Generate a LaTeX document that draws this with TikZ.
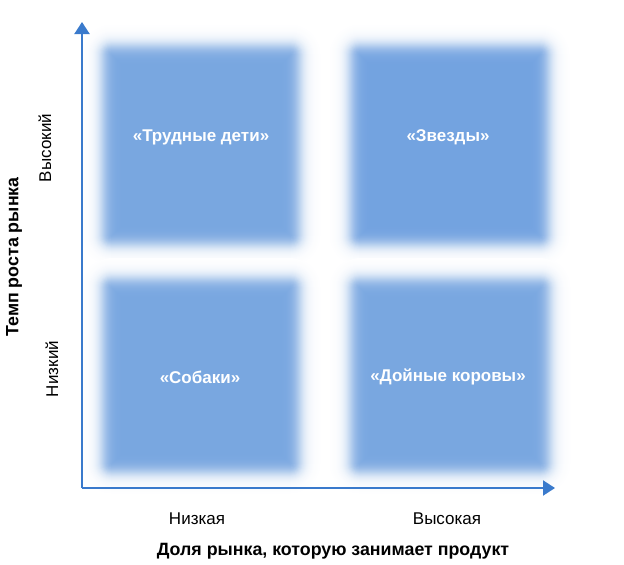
\documentclass[tikz,border=0pt]{standalone}
\usepackage{fontspec}
\setmainfont{Liberation Sans}
\usetikzlibrary{arrows.meta}
\definecolor{sqa}{RGB}{120,166,224}
\definecolor{sqb}{RGB}{114,162,224}
\definecolor{axis}{RGB}{58,122,204}
\tikzset{
  sqtext/.style={text=white,font=\fontsize{17}{20}\selectfont\bfseries,inner sep=0pt},
  lvl/.style={font=\fontsize{17}{20}\selectfont,inner sep=0pt},
  ttl/.style={font=\fontsize{17.8}{21}\selectfont\bfseries,inner sep=0pt},
  axisline/.style={draw=axis,line width=2pt,-{Triangle[length=12pt,width=15pt]}},
}
\newcommand{\blursq}[5]{% x1 y1 x2 y2 colour
  \foreach \d in {20,19,...,-20}{
    \pgfmathsetmacro\p{100/(1+exp(1.7*\d/7))}
    \pgfmathsetmacro\r{max(0.5,10+\d)}
    \fill[#5!\p!white,rounded corners=\r pt] (#1-\d,#2-\d) rectangle (#3+\d,#4+\d);
  }
}
\begin{document}
\begin{tikzpicture}[x=1pt,y=-1pt]
\useasboundingbox[fill=white] (0,0) rectangle (624,565);
\blursq{102}{45}{300}{245}{sqa}
\blursq{350}{45}{549}{245}{sqb}
\blursq{102}{278}{300}{473}{sqa}
\blursq{350}{278}{550}{473}{sqa}
\node[sqtext] (tl) at (201,137) {«Трудные дети»};
\node[sqtext] (tr) at (448,137) {«Звезды»};
\node[sqtext] (bl) at (200,377) {«Собаки»};
\node[sqtext] (br) at (448,377) {«Дойные коровы»};
\coordinate (O) at (82,488);
\coordinate (ytip) at (82,22);
\coordinate (xtip) at (555,488);
\draw[axisline] (O) -- (ytip);
\draw[axisline] (O) -- (xtip);
\node[lvl] (lo) at (197,519) {Низкая};
\node[lvl] (hi) at (447,519) {Высокая};
\node[ttl] (xt) at (333,551) {Доля рынка, которую занимает продукт};
\node[ttl,rotate=90] (yt) at (14,257) {Темп роста рынка};
\node[lvl,rotate=90] (yh) at (45,148) {Высокий};
\node[lvl,rotate=90] (yl) at (52,369) {Низкий};
\end{tikzpicture}
\end{document}
